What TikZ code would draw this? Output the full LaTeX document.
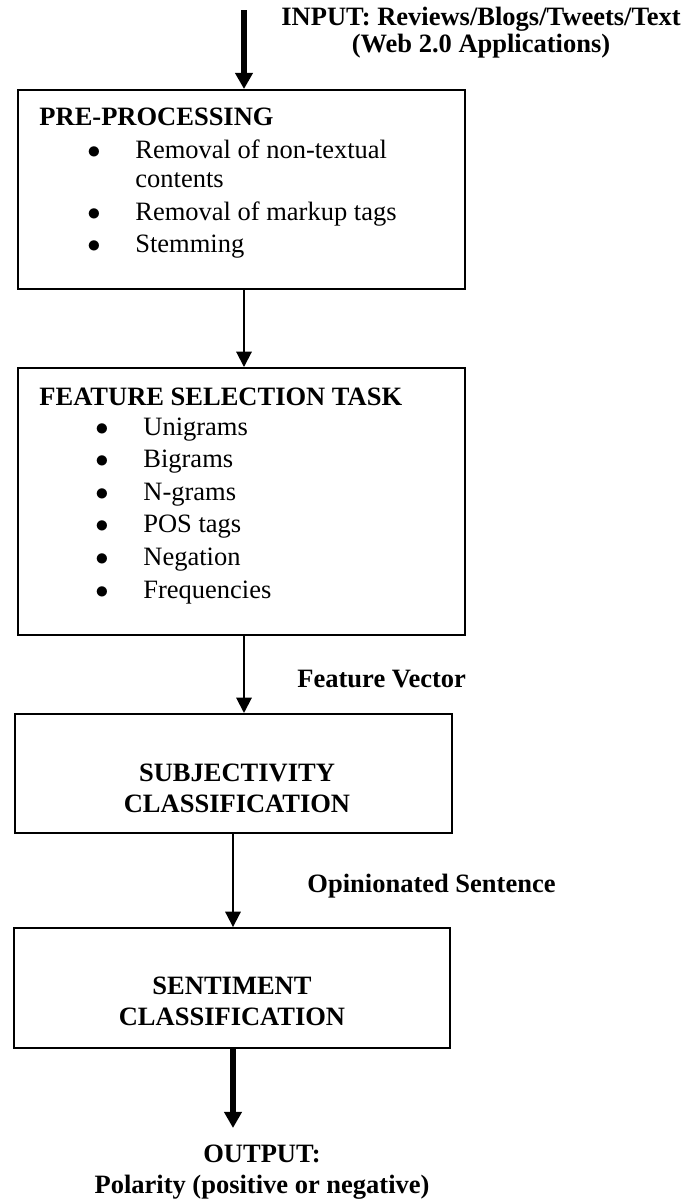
\documentclass[tikz,border=0pt]{standalone}
\usepackage{fontspec}
\setmainfont{Liberation Serif}
\usetikzlibrary{arrows.meta}
\tikzset{
  box/.style = {draw, line width=0.9pt, inner sep=0pt},
  item/.style = {font=\fontsize{12}{14.5}\selectfont, inner sep=0pt, anchor=base west},
  head/.style = {font=\fontsize{12}{14.5}\selectfont\bfseries, inner sep=0pt, anchor=base west},
  lbl/.style = {font=\fontsize{12}{13.6}\selectfont\bfseries, inner sep=0pt, align=center, anchor=base},
  thin/.style = {line width=0.9pt, -{Triangle[length=7pt,width=7pt]}},
  fat/.style = {line width=2.7pt, -{Triangle[length=7.3pt,width=7.7pt]}}
}
\newcommand{\bul}[1]{\makebox[21.7pt][l]{$\bullet$}#1}

\begin{document}
\begin{tikzpicture}[x=0.4528pt,y=-0.4528pt]
  \useasboundingbox (0,0) rectangle (691,1200);
  \node[box, minimum width=202.4pt, minimum height=90.1pt]  (pre)   at (241.5,189.5) {};
  \node[box, minimum width=202.4pt, minimum height=120.9pt] (feat)  at (241.5,501.5) {};
  \node[box, minimum width=197.9pt, minimum height=53.9pt]  (subj)  at (233.5,773.5) {};
  \node[box, minimum width=197.4pt, minimum height=54.3pt]  (senti) at (232,988) {};
  \coordinate (in)  at (244,10);
  \coordinate (out) at (233,1128);
  \node[lbl, font=\fontsize{12}{10.9}\selectfont\bfseries] (inlbl) at (481,52)
    {INPUT: Reviews/Blogs/Tweets/Text\\(Web 2.0 Applications)};
  \node[head] (prehead) at (39,125) {PRE-PROCESSING};
  \node[item] (pre1)  at (87,158) {\bul{Removal of non-textual}};
  \node[item] (pre1b) at (135,187) {contents};
  \node[item] (pre2)  at (87,220) {\bul{Removal of markup tags}};
  \node[item] (pre3)  at (87,252) {\bul{Stemming}};
  \node[head] (feathead) at (39,405) {FEATURE SELECTION TASK};
  \node[item] (feat1) at (95,435) {\bul{Unigrams}};
  \node[item] (feat2) at (95,467) {\bul{Bigrams}};
  \node[item] (feat3) at (95,500) {\bul{N-grams}};
  \node[item] (feat4) at (95,532) {\bul{POS tags}};
  \node[item] (feat5) at (95,565) {\bul{Negation}};
  \node[item] (feat6) at (95,598) {\bul{Frequencies}};
  \node[head] (fvec) at (297,687) {Feature Vector};
  \node[lbl] (subjlbl) at (237,812) {SUBJECTIVITY\\CLASSIFICATION};
  \node[head] (opin) at (307,892) {Opinionated Sentence};
  \node[lbl] (sentilbl) at (232,1025) {SENTIMENT\\CLASSIFICATION};
  \node[lbl] (outlbl) at (262,1193) {OUTPUT:\\Polarity (positive or negative)};
  \draw[fat]  (in) -- (in |- pre.north);
  \draw[thin] (pre.south -| in) -- (feat.north -| in);
  \draw[thin] (feat.south -| in) -- (subj.north -| in);
  \draw[thin] (subj.south -| out) -- (senti.north -| out);
  \draw[fat]  (senti.south -| out) -- (out);
\end{tikzpicture}
\end{document}
